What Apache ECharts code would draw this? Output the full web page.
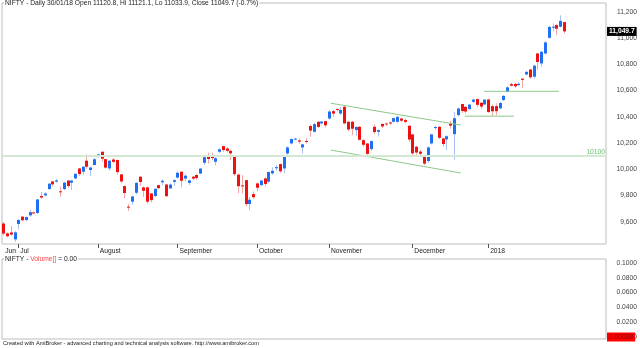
<!DOCTYPE html>
<html>
<head>
<meta charset="utf-8">
<script src="https://cdn.jsdelivr.net/npm/echarts@6/dist/echarts.min.js"></script>
<style>
  html, body { margin: 0; padding: 0; background: #fff; }
  #chart { width: 640px; height: 348px; }
</style>
</head>
<body>
<div id="chart"></div>
<script>
// NIFTY daily bars, 27 Jun 2017 - 30 Jan 2018
const dates = [
  '2017-06-27','2017-06-28','2017-06-29','2017-06-30',
  '2017-07-03','2017-07-04','2017-07-05','2017-07-06','2017-07-07','2017-07-10','2017-07-11','2017-07-12','2017-07-13','2017-07-14',
  '2017-07-17','2017-07-18','2017-07-19','2017-07-20','2017-07-21','2017-07-24','2017-07-25','2017-07-26','2017-07-27','2017-07-28','2017-07-31',
  '2017-08-01','2017-08-02','2017-08-03','2017-08-04','2017-08-07','2017-08-08','2017-08-09','2017-08-10','2017-08-11','2017-08-14',
  '2017-08-16','2017-08-17','2017-08-18','2017-08-21','2017-08-22','2017-08-23','2017-08-24','2017-08-28','2017-08-29','2017-08-30','2017-08-31',
  '2017-09-01','2017-09-04','2017-09-05','2017-09-06','2017-09-07','2017-09-08','2017-09-11','2017-09-12','2017-09-13','2017-09-14','2017-09-15',
  '2017-09-18','2017-09-19','2017-09-20','2017-09-21','2017-09-22','2017-09-25','2017-09-26','2017-09-27','2017-09-28','2017-09-29',
  '2017-10-03','2017-10-04','2017-10-05','2017-10-06','2017-10-09','2017-10-10','2017-10-11','2017-10-12','2017-10-13','2017-10-16',
  '2017-10-17','2017-10-18','2017-10-23','2017-10-24','2017-10-25','2017-10-26','2017-10-27','2017-10-30','2017-10-31',
  '2017-11-01','2017-11-02','2017-11-03','2017-11-06','2017-11-07','2017-11-08','2017-11-09','2017-11-10','2017-11-13','2017-11-14','2017-11-15',
  '2017-11-16','2017-11-17','2017-11-20','2017-11-21','2017-11-22','2017-11-23','2017-11-24','2017-11-27','2017-11-28','2017-11-29','2017-11-30',
  '2017-12-01','2017-12-04','2017-12-05','2017-12-06','2017-12-07','2017-12-08','2017-12-11','2017-12-12','2017-12-13','2017-12-14','2017-12-15',
  '2017-12-18','2017-12-19','2017-12-20','2017-12-21','2017-12-22','2017-12-26','2017-12-27','2017-12-28','2017-12-29',
  '2018-01-01','2018-01-02','2018-01-03','2018-01-04','2018-01-05','2018-01-08','2018-01-09','2018-01-10','2018-01-11','2018-01-12',
  '2018-01-15','2018-01-16','2018-01-17','2018-01-18','2018-01-19','2018-01-22','2018-01-23','2018-01-24','2018-01-25','2018-01-29','2018-01-30'
];
const opens = [
  9588, 9513, 9520, 9467,
  9584, 9640, 9614, 9650, 9672, 9668, 9797, 9802, 9850, 9908,
  9906, 9833, 9850, 9915, 9898, 9931, 10007, 9982, 10066, 9995, 10033,
  10103, 10134, 10078, 10007, 10075, 10071, 9962, 9873, 9716, 9754,
  9822, 9944, 9863, 9863, 9817, 9797, 9880, 9902, 9885, 9855, 9905,
  9937, 9982, 9930, 9897, 9944, 9957, 9968, 10050, 10101, 10109, 10058,
  10134, 10177, 10159, 10141, 10096, 9960, 9878, 9918, 9736, 9812,
  9893, 9880, 9931, 9906, 9969, 10008, 10040, 10007, 10121, 10197,
  10227, 10220, 10167, 10216, 10330, 10286, 10362, 10350, 10367,
  10387, 10443, 10460, 10425, 10476, 10362, 10362, 10299, 10324, 10222, 10197,
  10154, 10324, 10286, 10345, 10349, 10357, 10362, 10362, 10387, 10375, 10332,
  10266, 10172, 10135, 10096, 10063, 10197, 10316, 10324, 10235, 10228, 10348,
  10268, 10413, 10497, 10476, 10459, 10514, 10535, 10507, 10494,
  10532, 10481, 10481, 10464, 10527, 10590, 10649, 10650, 10641, 10690,
  10722, 10760, 10705, 10882, 10806, 10882, 11001, 11078, 11098, 11085, 11120.8
];
const highs = [
  9600, 9520, 9568, 9530,
  9622, 9645, 9642, 9690, 9680, 9775, 9827, 9825, 9897, 9913,
  9928, 9868, 9905, 9920, 9920, 9970, 10011, 10025, 10114, 10020, 10085,
  10120, 10137, 10080, 10070, 10085, 10075, 9965, 9880, 9736, 9800,
  9905, 9947, 9870, 9870, 9820, 9857, 9883, 9925, 9890, 9893, 9925,
  9985, 9985, 9960, 9920, 9950, 9962, 10010, 10100, 10126, 10126, 10100,
  10160, 10180, 10170, 10150, 10100, 9968, 9956, 9920, 9790, 9832,
  9900, 9920, 9940, 9984, 10015, 10034, 10045, 10100, 10175, 10236,
  10240, 10236, 10195, 10235, 10340, 10355, 10366, 10368, 10370,
  10451, 10452, 10462, 10475, 10490, 10370, 10370, 10330, 10330, 10230, 10200,
  10220, 10343, 10305, 10350, 10355, 10365, 10395, 10405, 10392, 10385, 10335,
  10270, 10180, 10147, 10100, 10175, 10270, 10330, 10330, 10240, 10260, 10367,
  10438, 10470, 10500, 10480, 10500, 10538, 10540, 10510, 10535,
  10537, 10495, 10503, 10513, 10566, 10631, 10660, 10660, 10665, 10695,
  10750, 10765, 10795, 10887, 10900, 10975, 11092, 11110, 11105, 11172, 11121.1
];
const lows = [
  9500, 9483, 9495, 9449,
  9543, 9603, 9605, 9640, 9660, 9660, 9775, 9795, 9845, 9870,
  9898, 9792, 9840, 9860, 9843, 9925, 9950, 9960, 10005, 9950, 10030,
  10090, 10060, 10005, 9990, 10050, 9957, 9896, 9779, 9685, 9730,
  9810, 9873, 9790, 9740, 9750, 9790, 9850, 9880, 9790, 9850, 9875,
  9930, 9863, 9910, 9880, 9920, 9920, 9965, 10033, 10045, 10070, 10032,
  10125, 10135, 10130, 10070, 9950, 9818, 9817, 9720, 9688, 9775,
  9835, 9875, 9870, 9900, 9960, 9990, 9975, 9975, 10110, 10190,
  10220, 10195, 10121, 10197, 10248, 10280, 10315, 10341, 10320,
  10380, 10400, 10440, 10413, 10343, 10290, 10260, 10256, 10220, 10175, 10094,
  10140, 10270, 10250, 10315, 10330, 10340, 10355, 10355, 10360, 10350, 10210,
  10100, 10110, 10096, 10033, 10050, 10190, 10300, 10230, 10172, 10147, 10310,
  10075, 10400, 10430, 10425, 10455, 10505, 10475, 10460, 10490,
  10430, 10405, 10413, 10460, 10520, 10585, 10630, 10620, 10635, 10620,
  10715, 10690, 10690, 10760, 10780, 10875, 10995, 11050, 11022, 11080, 11033.9
];
const closes = [
  9511, 9491, 9504, 9521,
  9615, 9613, 9637, 9674, 9666, 9771, 9786, 9816, 9891, 9886,
  9916, 9827, 9899, 9873, 9915, 9966, 9964, 10020, 10020, 10014, 10077,
  10114, 10081, 10013, 10066, 10057, 9979, 9908, 9820, 9711, 9794,
  9897, 9904, 9837, 9754, 9766, 9852, 9857, 9913, 9796, 9884, 9918,
  9974, 9913, 9952, 9916, 9930, 9935, 10006, 10093, 10079, 10086, 10085,
  10153, 10147, 10141, 10122, 9964, 9872, 9871, 9736, 9769, 9788,
  9860, 9915, 9889, 9980, 9989, 10017, 9985, 10096, 10167, 10231,
  10234, 10211, 10190, 10208, 10295, 10344, 10323, 10364, 10335,
  10440, 10424, 10452, 10452, 10350, 10303, 10309, 10322, 10225, 10187, 10118,
  10215, 10284, 10299, 10327, 10342, 10349, 10390, 10400, 10370, 10361, 10227,
  10122, 10128, 10118, 10044, 10167, 10266, 10322, 10240, 10193, 10252, 10333,
  10389, 10463, 10444, 10440, 10493, 10531, 10491, 10478, 10531,
  10436, 10442, 10443, 10505, 10559, 10624, 10637, 10632, 10651, 10681,
  10742, 10700, 10789, 10817, 10895, 10966, 11084, 11086, 11070, 11130, 11049.7
];

// month captions shown under the first bar of each month
const monthNames = ['Jun', 'Jul', 'August', 'September', 'October', 'November', 'December', '2018'];
// right-hand price scale and volume scale
const priceTicks = [9600, 9800, 10000, 10200, 10400, 10600, 10800, 11000, 11200];
const volumeTicks = [0, 0.02, 0.04, 0.06, 0.08, 0.1];
const volumeValue = 0;

// study lines: [bar index, price]
const refLevel = 10100;
const upperChannel = [[86.5, 10503], [120.8, 10337]];
const lowerChannel = [[86.5, 10147], [120.8, 9972]];
const supportLine = [[121.9, 10405], [134.8, 10405]];
const breakoutLine = [[126.9, 10594], [146.7, 10594]];

const FONT = '"Liberation Sans", Arial, sans-serif';
const BLUE = '#1f6ff2', RED = '#ee1111';
const BLUE_WICK = '#a7c2f2', RED_WICK = '#f3a6a6';
const HIDDEN_LINE = { color: 'rgba(0,0,0,0)', width: 0 };

const n = dates.length;
const bars = dates.map((d, i) => [i, opens[i], closes[i], lows[i], highs[i]]);

const monthStarts = [];
dates.forEach((d, i) => {
  if (i === 0 || d.slice(0, 7) !== dates[i - 1].slice(0, 7)) monthStarts.push(i);
});
const monthLabel = {};
monthStarts.forEach((idx, k) => { monthLabel[idx] = monthNames[k]; });

const fmtThousands = v => {
  const s = v.toFixed(v % 1 ? 1 : 0);
  const [a, b] = s.split('.');
  return a.replace(/\B(?=(\d{3})+(?!\d))/g, ',') + (b ? '.' + b : '');
};

const last = n - 1;
const dd = dates[last];
const titleDate = dd.slice(8, 10) + '/' + dd.slice(5, 7) + '/' + dd.slice(2, 4);
const pct = (closes[last] - closes[last - 1]) / closes[last - 1] * 100;
const titleText = 'NIFTY - Daily ' + titleDate +
  ' Open ' + opens[last].toFixed(1) + ', Hi ' + highs[last].toFixed(1) +
  ', Lo ' + lows[last].toFixed(1) + ', Close ' + closes[last].toFixed(1) +
  ' (' + pct.toFixed(1) + '%)';

function renderCandle(params, api) {
  const i = api.value(0), o = api.value(1), c = api.value(2), l = api.value(3), h = api.value(4);
  const pO = api.coord([i, o]), pC = api.coord([i, c]);
  const pL = api.coord([i, l]), pH = api.coord([i, h]);
  const up = c >= o;
  const cx = Math.round(pO[0]);
  const top = Math.min(pO[1], pC[1]), bot = Math.max(pO[1], pC[1]);
  return {
    type: 'group',
    children: [
      { type: 'line', shape: { x1: cx + 0.5, y1: pH[1], x2: cx + 0.5, y2: pL[1] },
        style: { stroke: up ? BLUE_WICK : RED_WICK, lineWidth: 1 } },
      { type: 'rect', shape: { x: cx - 1, y: top, width: 3, height: Math.max(1, bot - top) },
        style: { fill: up ? BLUE : RED } }
    ]
  };
}

const xMin = -0.3, xMax = 159.1;
const chart = echarts.init(document.getElementById('chart'), null, { renderer: 'canvas' });

chart.setOption({
  animation: false,
  backgroundColor: '#fff',
  textStyle: { fontFamily: FONT },
  grid: [
    { left: 2, top: 3, width: 604, height: 241, show: true, borderColor: '#bdbdbd', borderWidth: 1, backgroundColor: '#fff' },
    { left: 2, top: 259, width: 604, height: 80, show: true, borderColor: '#bdbdbd', borderWidth: 1, backgroundColor: '#fff' }
  ],
  xAxis: [
    {
      type: 'value', gridIndex: 0, min: xMin, max: xMax,
      axisLine: { show: false },
      splitLine: { show: false },
      axisTick: { show: true, customValues: monthStarts.slice(1), length: 4, lineStyle: { color: '#555', width: 1 } },
      axisLabel: {
        customValues: monthStarts,
        formatter: v => monthLabel[Math.round(v)] || '',
        align: 'left', margin: 4, padding: [0, 0, 0, 2],
        fontSize: 6.7, color: '#222', fontFamily: FONT
      }
    },
    {
      type: 'value', gridIndex: 1, min: xMin, max: xMax,
      axisLine: { show: false }, axisTick: { show: false },
      axisLabel: { show: false }, splitLine: { show: false }
    }
  ],
  yAxis: [
    {
      type: 'value', gridIndex: 0, position: 'right', min: 9432, max: 11266,
      axisLine: { show: false }, axisTick: { show: false }, splitLine: { show: false },
      axisLabel: {
        customValues: priceTicks, formatter: v => fmtThousands(v),
        align: 'right', margin: 31, fontSize: 6.7, color: '#444', fontFamily: FONT
      }
    },
    {
      type: 'value', gridIndex: 1, position: 'right', min: -0.0027, max: 0.1054,
      axisLine: { show: false }, axisTick: { show: false }, splitLine: { show: false },
      axisLabel: {
        customValues: volumeTicks, formatter: v => (v === 0 ? '0' : v.toFixed(4)),
        align: 'right', margin: 31, fontSize: 6.7, color: '#444', fontFamily: FONT
      }
    }
  ],
  series: [
    {
      name: 'ref', type: 'line', xAxisIndex: 0, yAxisIndex: 0, data: [], silent: true,
      markLine: {
        silent: true, symbol: 'none', animation: false,
        lineStyle: { color: '#d3e9d3', width: 2, type: 'solid' },
        label: { show: true, position: 'insideEndTop', formatter: String(refLevel), color: '#6cbf6c', fontSize: 6.7, fontFamily: FONT, distance: 1 },
        data: [{ yAxis: refLevel }]
      }
    },
    ...[upperChannel, lowerChannel, supportLine, breakoutLine].map(seg => ({
      type: 'line', xAxisIndex: 0, yAxisIndex: 0, data: seg, symbol: 'none', silent: true,
      lineStyle: { color: '#8cc88c', width: 1 }
    })),
    {
      name: 'NIFTY', type: 'custom', xAxisIndex: 0, yAxisIndex: 0,
      renderItem: renderCandle, data: bars, encode: { x: 0, y: [1, 2, 3, 4] }
    },
    {
      name: 'lastClose', type: 'line', xAxisIndex: 0, yAxisIndex: 0, data: [], silent: true,
      markLine: {
        silent: true, symbol: 'none', animation: false,
        lineStyle: HIDDEN_LINE,
        label: {
          show: true, position: 'end', distance: 1,
          formatter: fmtThousands(closes[last]),
          backgroundColor: '#000', color: '#fff', fontWeight: 'bold', opacity: 1,
          fontSize: 6.7, fontFamily: FONT, padding: [1, 2, 1, 2]
        },
        data: [{ yAxis: closes[last] }]
      }
    },
    {
      name: 'Volume', type: 'line', xAxisIndex: 1, yAxisIndex: 1, data: [], silent: true,
      markLine: {
        silent: true, symbol: 'none', animation: false,
        lineStyle: HIDDEN_LINE,
        label: {
          show: true, position: 'end', distance: 1, opacity: 1,
          formatter: volumeValue.toFixed(5),
          backgroundColor: '#ff0000', color: '#8a0000',
          fontSize: 6.7, fontFamily: FONT, padding: [1, 2, 1, 2]
        },
        data: [{ yAxis: volumeValue }]
      }
    }
  ],
  graphic: [
    {
      type: 'text', left: 4, top: 0, z: 100,
      style: { text: titleText, fill: '#222', font: '6.7px ' + FONT, backgroundColor: '#fff', padding: [0, 1, 0, 1] }
    },
    {
      type: 'text', left: 4, top: 256, z: 100,
      style: {
        text: '{a|NIFTY - }{b|Volume[]}{a| = ' + volumeValue.toFixed(2) + '}',
        backgroundColor: '#fff', padding: [0, 1, 0, 1],
        rich: {
          a: { fill: '#222', fontSize: 6.7, fontFamily: FONT },
          b: { fill: '#ff4444', fontSize: 6.7, fontFamily: FONT }
        }
      }
    },
    {
      type: 'text', left: 3, top: 340, z: 100,
      style: {
        text: 'Created with AmiBroker - advanced charting and technical analysis software. http://www.amibroker.com',
        fill: '#222', font: '5.6px ' + FONT
      }
    }
  ]
});
</script>
</body>
</html>
